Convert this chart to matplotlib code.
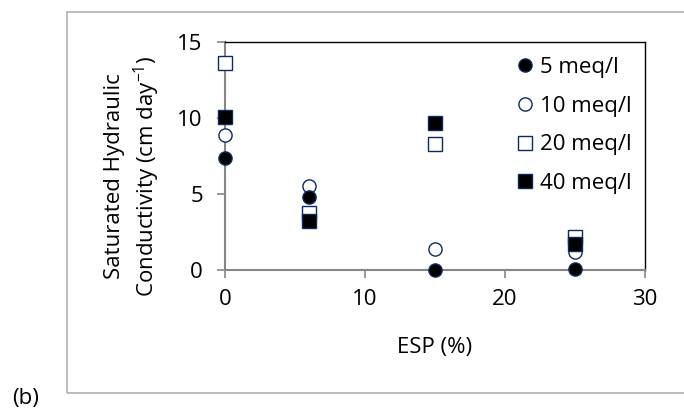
import matplotlib.pyplot as plt
from matplotlib.patches import Rectangle

plt.rcParams["font.family"] = ["Open Sans", "DejaVu Sans"]

esp = [0, 6, 15, 25]
k_5 = [7.35, 4.82, 0.0, 0.05]
k_10 = [8.88, 5.55, 1.38, 1.2]
k_20 = [13.6, 3.77, 8.29, 2.2]
k_40 = [10.04, 3.2, 9.69, 1.71]
labels = ["5 meq/l", "10 meq/l", "20 meq/l", "40 meq/l"]

navy = "#0f2a5e"
grey = "#868686"
fs = 16

fig = plt.figure(figsize=(6.84, 4.15), dpi=100)
ax = fig.add_axes([225 / 684, 1 - 270 / 415, 420 / 684, 228 / 415])

# outer chart border (right edge is off the image)
fig.patches.append(Rectangle((67 / 684, 1 - 393 / 415), 1.0, 381 / 415,
                             transform=fig.transFigure, fill=False,
                             edgecolor="#b0b0b0", linewidth=1.2))

ms = 9.5
ax.plot(esp, k_5, "o", ms=ms, mfc="black", mec=navy, mew=1, label=labels[0], clip_on=False, zorder=4)
ax.plot(esp, k_10, "o", ms=ms, mfc="white", mec=navy, mew=1, label=labels[1], clip_on=False, zorder=3)
ax.plot(esp, k_20, "s", ms=ms, mfc="white", mec=navy, mew=1, label=labels[2], clip_on=False, zorder=3)
ax.plot(esp, k_40, "s", ms=ms, mfc="black", mec=navy, mew=1, label=labels[3], clip_on=False, zorder=4)

ax.set_xlim(0, 30)
ax.set_ylim(0, 15)
ax.set_xticks([0, 10, 20, 30])
ax.set_yticks([0, 5, 10, 15])

for s in ["left", "bottom"]:
    ax.spines[s].set_color(grey)
    ax.spines[s].set_linewidth(1.5)
for s in ["top", "right"]:
    ax.spines[s].set_color("black")
    ax.spines[s].set_linewidth(1.0)

ax.tick_params(axis="both", colors=grey, labelcolor="black", labelsize=fs,
               direction="out", length=6, width=1.2)
ax.tick_params(axis="x", pad=8)
ax.tick_params(axis="y", pad=10)

fig.text(435 / 684, 1 - 347 / 415, "ESP (%)", fontsize=fs, ha="center", va="center")
fig.text(133 / 684, 1 - 176 / 415,
         "Saturated Hydraulic\nConductivity (cm day$^{\\mathregular{-1}}$)",
         fontsize=fs, rotation=90, ha="center", va="center",
         multialignment="center", linespacing=1.3)

ax.legend(loc="upper left", frameon=False, fontsize=fs, handletextpad=0.05,
          labelspacing=0.8, borderpad=0, borderaxespad=0, handlelength=1.2,
          bbox_to_anchor=(0.683, 0.935))

fig.text(26 / 684, 1 - 398 / 415, "(b)", fontsize=fs, va="center", ha="center")

fig.savefig("out.png", dpi=100)
